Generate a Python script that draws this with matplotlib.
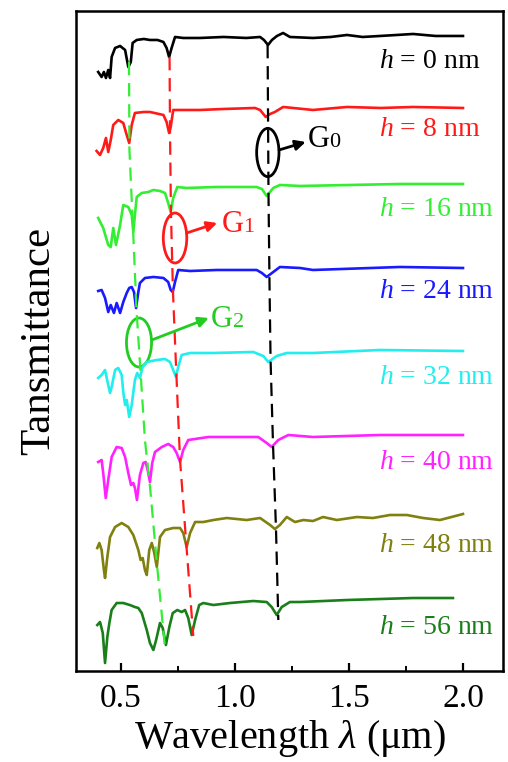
import numpy as np
import matplotlib
matplotlib.use("Agg")
import matplotlib.pyplot as plt
from matplotlib.patches import Ellipse

plt.rcParams["font.family"] = ["Liberation Serif", "DejaVu Serif"]
plt.rcParams["mathtext.fontset"] = "custom"
plt.rcParams["mathtext.rm"] = "Liberation Serif"
plt.rcParams["mathtext.it"] = "Liberation Serif:italic"

# ============================
# DATA (stacked transmittance, arbitrary units)
# ============================
wl_h0 = [0.400, 0.415, 0.425, 0.434, 0.444, 0.452, 0.459, 0.474, 0.496, 0.518, 0.532, 0.543,
         0.551, 0.569, 0.600, 0.627, 0.660, 0.686, 0.700, 0.711, 0.722, 0.737, 0.773, 0.846,
         0.950, 1.050, 1.110, 1.127, 1.145, 1.162, 1.184, 1.211, 1.241, 1.342, 1.420, 1.491,
         1.560, 1.636, 1.710, 1.781, 1.880, 2.000]
tr_h0 = [59.9, 59.4, 59.9, 59.3, 60.1, 59.3, 61.4, 62.3, 62.5, 62.1, 60.4, 60.9,
         62.8, 63.1, 63.2, 63.1, 63.1, 62.9, 62.3, 61.4, 62.3, 63.4, 63.3, 63.3,
         63.4, 63.3, 63.4, 63.1, 62.6, 63.1, 63.5, 63.8, 63.4, 63.3, 63.4, 63.6,
         63.4, 63.5, 63.6, 63.7, 63.5, 63.5]

wl_h8 = [0.393, 0.408, 0.422, 0.434, 0.444, 0.455, 0.466, 0.488, 0.510, 0.525, 0.536, 0.547,
         0.561, 0.600, 0.627, 0.686, 0.700, 0.711, 0.718, 0.729, 0.773, 0.846, 0.950, 1.088,
         1.110, 1.135, 1.154, 1.175, 1.211, 1.342, 1.491, 1.640, 1.781, 2.000]
tr_h8 = [52.0, 51.6, 52.3, 53.3, 51.9, 53.1, 54.6, 55.1, 54.8, 53.6, 52.8, 54.6,
         55.8, 55.9, 55.9, 55.6, 54.9, 53.8, 54.4, 56.1, 56.1, 56.1, 56.2, 56.3,
         56.1, 55.4, 55.7, 55.9, 56.4, 56.1, 56.4, 56.3, 56.4, 56.3]

wl_h16 = [0.400, 0.422, 0.444, 0.455, 0.466, 0.478, 0.496, 0.510, 0.532, 0.547, 0.554, 0.561,
          0.569, 0.591, 0.620, 0.642, 0.671, 0.693, 0.707, 0.718, 0.729, 0.747, 0.788, 0.920,
          1.095, 1.118, 1.139, 1.168, 1.197, 1.285, 1.504, 1.724, 2.000]
tr_h16 = [45.3, 44.3, 42.6, 42.4, 44.3, 42.6, 44.6, 46.6, 46.4, 45.6, 43.9, 45.6,
          47.4, 47.8, 47.9, 48.1, 48.0, 47.8, 46.8, 45.9, 47.3, 48.4, 48.3, 48.4,
          48.4, 48.2, 47.5, 48.3, 48.6, 48.5, 48.6, 48.7, 48.7]

wl_h24 = [0.400, 0.415, 0.430, 0.444, 0.455, 0.469, 0.481, 0.496, 0.510, 0.525, 0.536, 0.547,
          0.557, 0.566, 0.576, 0.583, 0.605, 0.642, 0.686, 0.707, 0.718, 0.727, 0.737, 0.751,
          0.803, 0.920, 1.095, 1.118, 1.139, 1.168, 1.197, 1.285, 1.342, 1.724, 2.000]
tr_h24 = [38.0, 38.1, 37.3, 35.9, 36.6, 35.8, 36.8, 35.8, 36.9, 37.8, 38.3, 38.4,
          37.9, 36.3, 37.9, 38.8, 39.3, 39.4, 39.3, 38.9, 38.1, 37.9, 38.9, 40.1,
          40.0, 40.1, 40.1, 39.8, 39.4, 39.9, 40.4, 40.3, 40.1, 40.4, 40.3]

wl_h32 = [0.400, 0.415, 0.430, 0.444, 0.452, 0.459, 0.474, 0.488, 0.503, 0.510, 0.518, 0.525,
          0.536, 0.547, 0.561, 0.571, 0.583, 0.595, 0.613, 0.657, 0.693, 0.715, 0.729, 0.741,
          0.751, 0.766, 0.803, 0.905, 1.080, 1.124, 1.146, 1.183, 1.227, 1.342, 1.636, 2.000]
tr_h32 = [29.3, 29.6, 30.1, 28.6, 27.8, 28.4, 30.1, 30.3, 29.6, 27.9, 26.6, 27.1,
          25.4, 26.6, 29.1, 29.8, 29.3, 30.4, 30.9, 31.1, 31.2, 30.9, 30.1, 29.4,
          30.4, 31.6, 31.8, 31.8, 31.9, 31.5, 30.9, 31.5, 31.8, 31.8, 32.1, 32.0]

wl_h40 = [0.400, 0.415, 0.422, 0.433, 0.444, 0.459, 0.481, 0.503, 0.518, 0.532, 0.544, 0.554,
          0.561, 0.570, 0.583, 0.598, 0.608, 0.617, 0.627, 0.637, 0.649, 0.679, 0.707, 0.729,
          0.744, 0.759, 0.773, 0.795, 0.883, 1.102, 1.139, 1.161, 1.190, 1.234, 1.342, 1.636,
          2.000]
tr_h40 = [20.9, 21.1, 19.8, 17.3, 19.1, 21.4, 22.4, 22.3, 21.4, 19.8, 18.6, 18.8,
          18.3, 17.1, 19.6, 20.8, 20.9, 20.1, 18.9, 20.8, 21.9, 22.4, 22.7, 22.4,
          21.8, 20.9, 22.1, 23.1, 23.4, 23.4, 22.8, 22.4, 23.1, 23.6, 23.4, 23.6,
          23.6]

wl_h48 = [0.396, 0.405, 0.415, 0.425, 0.430, 0.440, 0.452, 0.474, 0.503, 0.532, 0.554, 0.576,
          0.586, 0.595, 0.605, 0.613, 0.624, 0.635, 0.645, 0.657, 0.671, 0.693, 0.729, 0.759,
          0.773, 0.788, 0.803, 0.825, 0.861, 0.905, 0.964, 1.051, 1.110, 1.154, 1.175, 1.197,
          1.227, 1.263, 1.300, 1.342, 1.386, 1.447, 1.535, 1.605, 1.680, 1.754, 1.825, 1.899,
          2.000]
tr_h48 = [12.3, 12.8, 12.1, 10.1, 9.3, 11.4, 13.4, 14.4, 14.8, 14.4, 13.6, 12.1,
          11.1, 11.3, 10.1, 9.6, 12.1, 12.8, 11.9, 10.4, 13.4, 14.1, 14.3, 14.3,
          13.8, 12.4, 13.8, 14.9, 14.9, 15.1, 15.3, 15.1, 15.3, 14.6, 14.2, 14.6,
          15.4, 14.9, 15.1, 15.0, 15.4, 15.1, 15.4, 15.3, 15.6, 15.6, 15.3, 15.1,
          15.7]

wl_h56 = [0.396, 0.408, 0.420, 0.430, 0.440, 0.449, 0.459, 0.481, 0.510, 0.539, 0.561, 0.576,
          0.591, 0.613, 0.627, 0.642, 0.654, 0.671, 0.683, 0.697, 0.712, 0.727, 0.747, 0.766,
          0.781, 0.795, 0.810, 0.825, 0.843, 0.861, 0.905, 0.978, 1.080, 1.139, 1.161, 1.183,
          1.205, 1.241, 1.285, 1.491, 1.781, 1.956]
tr_h56 = [4.6, 4.9, 3.8, 0.8, 3.4, 4.8, 6.1, 6.8, 6.8, 6.6, 6.4, 6.3,
          5.8, 4.1, 2.8, 2.1, 3.1, 4.8, 4.3, 2.6, 4.4, 5.8, 6.1, 5.9,
          6.1, 5.3, 3.6, 5.1, 6.6, 6.8, 6.6, 6.8, 7.0, 6.9, 6.4, 5.6,
          6.4, 6.9, 6.9, 7.1, 7.3, 7.3]

labels = ["0", "8", "16", "24", "32", "40", "48", "56"]
label_y = [60.9, 54.1, 46.1, 37.9, 29.3, 20.9, 12.6, 4.4]
colors = ["#000000", "#ff1a1a", "#33ee33", "#1a1aff", "#22eeee", "#ff22ff", "#808010", "#1a7f1a"]

# dip-tracking guide lines (G2, G1, G0)
g2_wl = [0.535, 0.537, 0.553, 0.568, 0.588, 0.605, 0.627, 0.658, 0.693]
g2_tr = [60.9, 52.1, 44.1, 36.1, 29.1, 23.1, 18.5, 10.6, 2.3]
g1_wl = [0.713, 0.715, 0.719, 0.728, 0.743, 0.759, 0.787, 0.817]
g1_tr = [61.4, 53.8, 45.9, 37.9, 29.6, 21.1, 12.5, 3.5]
g0_wl = [1.143, 1.145, 1.147, 1.151, 1.156, 1.167, 1.180, 1.190]
g0_tr = [62.6, 55.1, 47.6, 39.4, 31.1, 22.5, 14.1, 5.1]

# ============================
# PLOT
# ============================
fig = plt.figure(figsize=(5.08, 7.62), dpi=100)
ax = fig.add_axes([0.1496, 0.1194, 0.8405, 0.8662])

curves = [(wl_h0, tr_h0), (wl_h8, tr_h8), (wl_h16, tr_h16), (wl_h24, tr_h24),
          (wl_h32, tr_h32), (wl_h40, tr_h40), (wl_h48, tr_h48), (wl_h56, tr_h56)]
for (wl, tr), c in zip(curves, colors):
    ax.plot(wl, tr, color=c, lw=1.9, solid_joinstyle="round")

for wl, tr, c in [(g2_wl, g2_tr, "#33ee33"), (g1_wl, g1_tr, "#ff1a1a"), (g0_wl, g0_tr, "#000000")]:
    ax.plot(wl, tr, color=c, lw=1.6, dashes=(6, 3.5))

for lab, y, c in zip(labels, label_y, colors):
    ax.text(1.630, y, r"$\mathit{h}$ = " + lab + " nm", color=c, fontsize=20,
            ha="left", va="center")

# ellipses + arrows + G labels
marks = [
    (1.144, 51.85, 0.098, 4.83, "#000000", (1.193, 52.1), (1.310, 52.9), (1.318, 53.1), "0"),
    (0.737, 43.3, 0.103, 5.0, "#ff1a1a", (0.788, 43.8), (0.922, 44.8), (0.940, 44.6), "1"),
    (0.579, 32.85, 0.110, 4.9, "#22cc22", (0.635, 33.1), (0.885, 35.3), (0.895, 35.1), "2"),
]
for cx, cy, w, h, c, a0, a1, tpos, sub in marks:
    ax.add_patch(Ellipse((cx, cy), w, h, fill=False, edgecolor=c, lw=2))
    ax.annotate("", xy=a1, xytext=a0,
                arrowprops=dict(arrowstyle="-|>", color=c, lw=2, mutation_scale=15,
                                shrinkA=0, shrinkB=0))
    ax.text(tpos[0], tpos[1], "G", color=c, fontsize=22, ha="left", va="center")
    ax.annotate(sub, xy=tpos, xytext=(15.5, -1.5), textcoords="offset points",
                color=c, fontsize=16, ha="left", va="center")

ax.set_xlim(0.3026, 2.1754)
ax.set_ylim(0, 66)
ax.set_xticks([0.5, 1.0, 1.5, 2.0])
ax.set_xticklabels(["0.5", "1.0", "1.5", "2.0"])
ax.set_xticks([0.75, 1.25, 1.75], minor=True)
ax.set_yticks([])
ax.tick_params(axis="x", which="major", direction="in", length=6, width=1.6,
               labelsize=24, pad=9)
ax.tick_params(axis="x", which="minor", direction="in", length=3.5, width=1.4)
for s in ax.spines.values():
    s.set_linewidth(1.8)

ax.set_xlabel(r"Wavelength $\lambda$ ($\mathrm{\mu}$m)", fontsize=29, labelpad=3)
ax.set_ylabel("Tansmittance", fontsize=31, labelpad=13)

fig.savefig("out.png", dpi=100)
